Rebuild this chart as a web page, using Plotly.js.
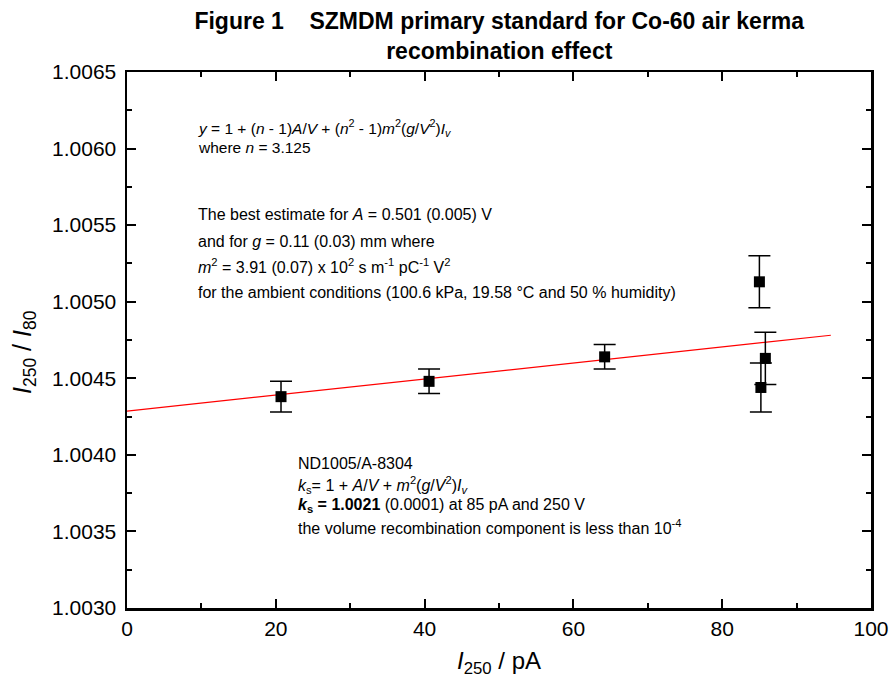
<!DOCTYPE html>
<html>
<head>
<meta charset="utf-8">
<script src="https://cdn.plot.ly/plotly-3.0.1.min.js"></script>
<style>html,body{margin:0;padding:0;background:#fff;}#chart{width:889px;height:685px;}</style>
</head>
<body>
<div id="chart"></div>
<script>
// Measured data (I250 in pA, ratio I250/I80)
const currentPA = [20.7, 40.6, 64.2, 85.0, 85.8, 85.2];
const ratio = [1.00438, 1.00448, 1.00464, 1.00513, 1.00463, 1.00444];
const ratioErr = [0.00010, 0.00008, 0.00008, 0.00017, 0.00017, 0.00016];

// Fitted line endpoints
const fitX = [0, 94.6];
const fitY = [1.004286, 1.004781];

// Axis ticks
const yTickVals = [1.0030, 1.0035, 1.0040, 1.0045, 1.0050, 1.0055, 1.0060, 1.0065];
const xTickVals = [0, 20, 40, 60, 80, 100];

// Annotation lines
const textBlock1 = [
  '<i>y</i> = 1 + (<i>n</i> - 1)<i>A</i>/<i>V</i> + (<i>n</i><sup>2</sup> - 1)<i>m</i><sup>2</sup>(<i>g</i>/<i>V</i><sup>2</sup>)<i>I</i><sub><i>v</i></sub>',
  'where <i>n</i> = 3.125'
];
const textBlock2 = [
  'The best estimate for <i>A</i> = 0.501 (0.005) V',
  'and for <i>g</i> = 0.11 (0.03) mm where',
  '<i>m</i><sup>2</sup> = 3.91 (0.07) x 10<sup>2</sup> s m<sup>-1</sup> pC<sup>-1</sup> V<sup>2</sup>',
  'for the ambient conditions (100.6 kPa, 19.58 °C and 50 % humidity)'
];
const textBlock3 = [
  'ND1005/A-8304',
  '<i>k</i><sub>s</sub>= 1 + <i>A</i>/<i>V</i> + <i>m</i><sup>2</sup>(<i>g</i>/<i>V</i><sup>2</sup>)<i>I</i><sub><i>v</i></sub>',
  '<b><i>k</i><sub>s</sub> = 1.0021</b> (0.0001) at 85 pA and 250 V',
  'the volume recombination component is less than 10<sup>-4</sup>'
];
const block1Y = [128, 147];
const block2Y = [215, 241, 266, 292];
const block3Y = [463, 485, 505, 527];
const yTitleText = '<i>I</i><sub>250</sub> / <i>I</i><sub>80</sub>';

const FONT = 'Liberation Sans, Arial, sans-serif';
const annotations = [];
function addBlock(lines, ys, xpx, size) {
  lines.forEach((t, i) => {
    annotations.push({
      text: t, xref: 'paper', yref: 'paper',
      x: (xpx - 127) / 744, y: (608 - ys[i]) / 536,
      xanchor: 'left', yanchor: 'middle', showarrow: false,
      align: 'left', font: {family: FONT, size: size, color: '#000'}
    });
  });
}
addBlock(textBlock1, block1Y, 196, 15.5);
addBlock(textBlock2, block2Y, 196, 16);
addBlock(textBlock3, block3Y, 296, 16);

// y-axis title placed as rotated text
annotations.push({
  text: yTitleText, xref: 'paper', yref: 'paper',
  x: (24 - 127) / 744, y: (608 - 352) / 536,
  xanchor: 'center', yanchor: 'middle', textangle: -90, showarrow: false,
  font: {family: FONT, size: 25, color: '#000'}
});

const traces = [
  {
    x: fitX, y: fitY, mode: 'lines', type: 'scatter',
    line: {color: '#ff0000', width: 1.2}, hoverinfo: 'skip'
  },
  {
    x: currentPA, y: ratio, mode: 'markers', type: 'scatter',
    marker: {symbol: 'square', size: 11, color: '#000'},
    error_y: {type: 'data', array: ratioErr, visible: true, color: '#000', thickness: 1.5, width: 11}
  }
];

const axisCommon = {
  showline: true, linecolor: '#000', linewidth: 2.5, mirror: 'allticks',
  ticks: 'inside', ticklen: 9, tickwidth: 2, tickcolor: '#000',
  showgrid: false, zeroline: false,
  tickfont: {family: FONT, size: 21, color: '#000'}
};

const layout = {
  width: 889, height: 685,
  margin: {l: 127, r: 18, t: 72, b: 77},
  paper_bgcolor: '#fff', plot_bgcolor: '#fff',
  showlegend: false,
  title: {
    text: 'Figure 1\u00a0\u00a0\u00a0\u00a0SZMDM primary standard for Co-60 air kerma<br>recombination effect',
    font: {family: FONT, size: 23, color: '#000', weight: 'bold'},
    x: 0.5616, xanchor: 'center', yref: 'container', y: 1 - 29 / 685, yanchor: 'middle'
  },
  xaxis: Object.assign({}, axisCommon, {
    range: [0, 100], tickvals: xTickVals, ticktext: xTickVals.map(String),
    minor: {dtick: 10, ticks: 'inside', ticklen: 5, tickwidth: 2, tickcolor: '#000'},
    title: {text: '<i>I</i><sub>250</sub> / pA', font: {family: FONT, size: 24, color: '#000'}, standoff: 14}
  }),
  yaxis: Object.assign({}, axisCommon, {
    range: [1.0030, 1.0065], tickvals: yTickVals, ticktext: yTickVals.map(v => v.toFixed(4)),
    minor: {dtick: 0.00025, ticks: 'inside', ticklen: 5, tickwidth: 2, tickcolor: '#000'},
    ticklabelstandoff: 4
  }),
  annotations: annotations
};

Plotly.newPlot('chart', traces, layout, {displayModeBar: false, staticPlot: true});
</script>
</body>
</html>
